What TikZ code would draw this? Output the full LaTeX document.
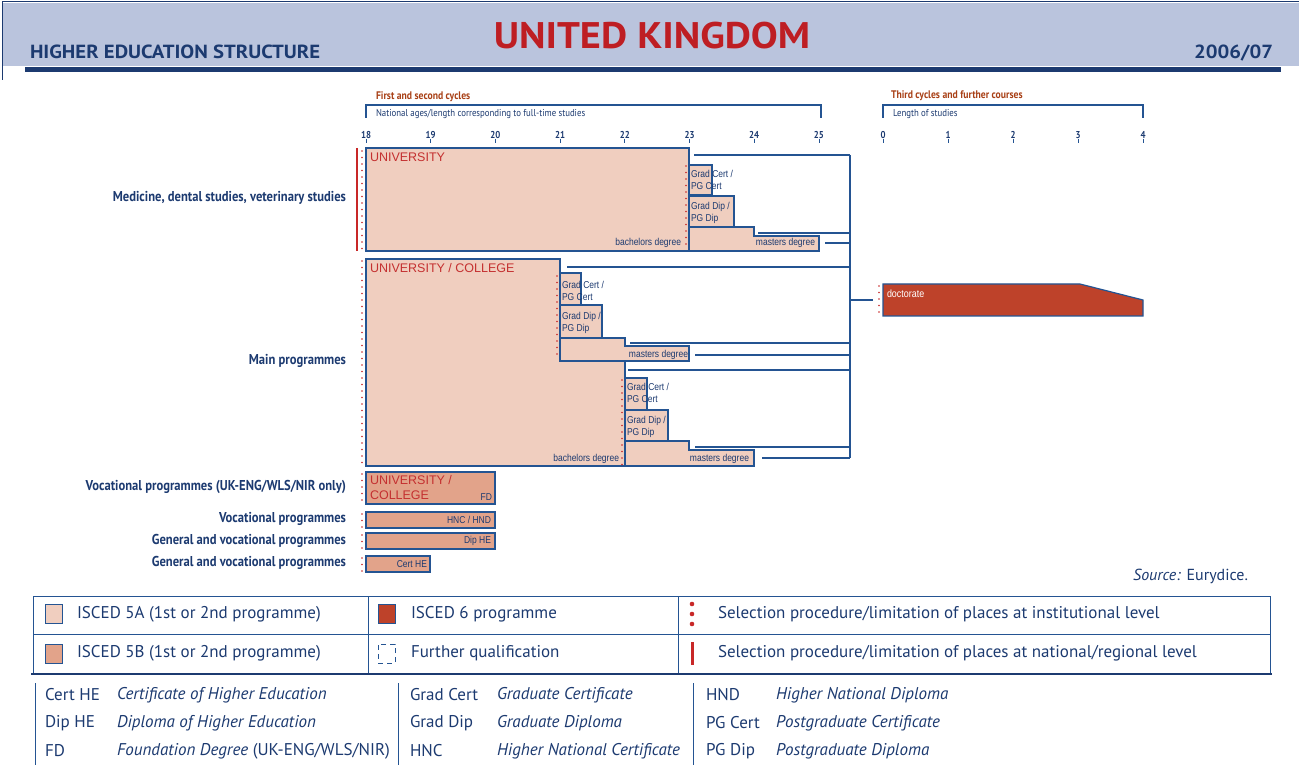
\documentclass[tikz,border=0pt]{standalone}
\usepackage{fontspec}
\setmainfont{PT Sans}
\newfontfamily\condfont[FakeStretch=0.88]{PT Sans}
\newfontfamily\widefont[FakeStretch=1.09]{PT Sans}
\newfontfamily\boxfont[FakeStretch=0.85]{Liberation Sans}
\newfontfamily\unifont{Liberation Sans}
\usetikzlibrary{positioning}

\definecolor{navy}{RGB}{28,58,112}
\definecolor{linenavy}{RGB}{36,84,146}
\definecolor{headband}{RGB}{186,196,221}
\definecolor{isceda}{RGB}{240,206,191}
\definecolor{iscedb}{RGB}{226,163,138}
\definecolor{iscedsix}{RGB}{190,66,42}
\definecolor{selred}{RGB}{200,40,40}
\definecolor{titlered}{RGB}{190,30,35}
\definecolor{unired}{RGB}{196,48,48}
\definecolor{cyclebrown}{RGB}{168,64,22}

\begin{document}
\begin{tikzpicture}[x=1pt,y=-1pt,
  every node/.style={inner sep=0pt,outer sep=0pt},
  fivea/.style={draw=linenavy,fill=isceda,line width=1.2pt},
  fiveb/.style={draw=linenavy,fill=iscedb,line width=1.2pt},
  six/.style={draw=linenavy,fill=iscedsix,line width=1.2pt},
  bus/.style={draw=linenavy,line width=1.2pt},
  instsel/.style={draw=selred,line width=1.6pt,line cap=round,dash pattern=on 0pt off 6.5pt},
  natsel/.style={draw=selred,line width=1.6pt},
  rowlbl/.style={anchor=east,font=\condfont\bfseries\fontsize{14.3}{16}\selectfont,text=navy},
  unilbl/.style={anchor=west,font=\unifont\fontsize{12.5}{15}\selectfont,text=unired},
  qual/.style={font=\boxfont\fontsize{10}{12.5}\selectfont,text=navy},
  axisnum/.style={font=\condfont\bfseries\fontsize{10}{11}\selectfont,text=navy},
  cyclbl/.style={anchor=west,font=\condfont\bfseries\fontsize{11}{12}\selectfont,text=cyclebrown},
  axislbl/.style={anchor=west,font=\condfont\fontsize{10}{11}\selectfont,text=navy},
  legtxt/.style={anchor=west,font=\fontsize{17}{18}\selectfont,text=navy},
  abbr/.style={anchor=west,font=\fontsize{17}{18}\selectfont,text=navy},
  abbrdesc/.style={abbr,font=\itshape\fontsize{17}{18}\selectfont},
  keybox/.style={anchor=north west,minimum width=17pt,minimum height=19pt,line width=1pt}]
\useasboundingbox (0,0) rectangle (1299,767);

% header
\fill[headband] (3,3) rectangle (1299,66);
\draw[navy,line width=1pt] (2,80) -- (2,2) -- (1299,2);
\fill[navy] (25,67) rectangle (1281,72);
\node[font=\widefont\bfseries\fontsize{37}{40}\selectfont,text=titlered] (title) at (652,36) {UNITED KINGDOM};
\node[anchor=base west,font=\widefont\bfseries\fontsize{19}{20}\selectfont,text=navy] (hes) at (30,59) {HIGHER EDUCATION STRUCTURE};
\node[anchor=base east,font=\widefont\bfseries\fontsize{19}{20}\selectfont,text=navy] (year) at (1273,59) {2006/07};

% axes
\node[cyclbl] (cycfirst) at (376,97) {First and second cycles};
\draw[bus] (366,118) -- (366,105) -- (821,105) -- (821,118);
\node[axislbl] (natage) at (376,114) {National ages/length corresponding to full-time studies};
\foreach \a [count=\i from 0] in {18,...,25}
  {\node[axisnum] (age\a) at (366+\i*64.7,135) {\a};
   \draw[linenavy,line width=0.8pt] (age\a.south) -- ++(0,4);}
\node[cyclbl] (cycthird) at (891,96) {Third cycles and further courses};
\draw[bus] (883,118) -- (883,105) -- (1143,105) -- (1143,118);
\node[axislbl] (studlen) at (893,114) {Length of studies};
\foreach \n in {0,...,4}
  {\node[axisnum] (len\n) at (883+\n*65,135) {\n};
   \draw[linenavy,line width=0.8pt] (len\n.south) -- ++(0,4);}

% medicine
\node[fivea,anchor=north west,minimum width=323pt,minimum height=103pt] (medbach) at (366,148) {};
\draw[fivea] (689,227) -- (754,227) -- (754,236) -- (819,236) -- (819,251) -- (689,251) -- cycle;
\node[fivea,anchor=north west,minimum width=23pt,minimum height=30pt] (medgc) at (689,165) {};
\node[fivea,anchor=north west,minimum width=45pt,minimum height=31pt] (medgd) at (689,196) {};
\node[unilbl] (meduni) at (370,157) {UNIVERSITY};
\node[qual,anchor=east] (medba) at (681,243) {bachelors degree};
\node[qual,anchor=west,align=left] (medgctxt) at (691,180) {Grad Cert /\\PG Cert};
\node[qual,anchor=west,align=left] (medgdtxt) at (691,213) {Grad Dip /\\PG Dip};
\node[qual,anchor=east] (medma) at (815,243) {masters degree};
\draw[natsel] (357,148) -- (357,251);
\draw[instsel] (362,151) -- (362,250);
\draw[instsel] (686,166) -- (686,250);

% main programmes
\draw[fivea] (366,259) -- (560,259) -- (560,361) -- (625,361) -- (625,466) -- (366,466) -- cycle;
\draw[fivea] (560,338) -- (625,338) -- (625,346) -- (689,346) -- (689,361) -- (560,361) -- cycle;
\node[fivea,anchor=north west,minimum width=21pt,minimum height=32pt] (maingc) at (560,273) {};
\node[fivea,anchor=north west,minimum width=42pt,minimum height=33pt] (maingd) at (560,305) {};
\draw[fivea] (625,441) -- (689,441) -- (689,450) -- (754,450) -- (754,466) -- (625,466) -- cycle;
\node[fivea,anchor=north west,minimum width=22pt,minimum height=32pt] (longgc) at (625,378) {};
\node[fivea,anchor=north west,minimum width=43pt,minimum height=31pt] (longgd) at (625,410) {};
\node[unilbl] (mainuni) at (370,268) {UNIVERSITY / COLLEGE};
\node[qual,anchor=west,align=left] (maingctxt) at (562,291) {Grad Cert /\\PG Cert};
\node[qual,anchor=west,align=left] (maingdtxt) at (562,323) {Grad Dip /\\PG Dip};
\node[qual,anchor=east] (mainma) at (688,355) {masters degree};
\node[qual,anchor=west,align=left] (longgctxt) at (627,393) {Grad Cert /\\PG Cert};
\node[qual,anchor=west,align=left] (longgdtxt) at (627,427) {Grad Dip /\\PG Dip};
\node[qual,anchor=east] (longba) at (619,459) {bachelors degree};
\node[qual,anchor=east] (longma) at (749,459) {masters degree};
\draw[instsel] (362,261) -- (362,466);
\draw[instsel] (557,276) -- (557,360);
\draw[instsel] (622,380) -- (622,466);

% links to third cycle
\coordinate (bustop) at (850,155);
\coordinate (busbot) at (850,458);
\coordinate (feed1) at (694,155);
\coordinate (feed2) at (758,233);
\coordinate (feed3) at (825,243);
\coordinate (feed4) at (567,267);
\coordinate (feed5) at (630,343);
\coordinate (feed6) at (695,355);
\coordinate (feed7) at (628,370);
\coordinate (feed8) at (695,447);
\coordinate (feed9) at (762,458);
\draw[bus] (bustop) -- (busbot);
\foreach \f in {1,...,9}
  \draw[bus] (feed\f) -- (feed\f -| bustop);

% doctorate
\draw[six] (883,284) -- (1080,284) -- (1143,300) -- (1143,316) -- (883,316) -- cycle;
\node[anchor=west,font=\boxfont\fontsize{10.5}{12}\selectfont,text=white] (doct) at (887,294) {doctorate};
\coordinate (doclink) at (873,300);
\draw[bus] (doclink -| bustop) -- (doclink);
\draw[instsel] (879,286) -- (879,316);

% row labels
\node[rowlbl] (medlbl) at (346,198) {Medicine, dental studies, veterinary studies};
\node[rowlbl] (mainlbl) at (346,361) {Main programmes};
\node[rowlbl] (fdlbl) at (346,487) {Vocational programmes (UK-ENG/WLS/NIR only)};
\node[rowlbl] (hnlbl) at (346,519) {Vocational programmes};
\node[rowlbl] (dhlbl) at (346,541) {General and vocational programmes};
\node[rowlbl] (chlbl) at (346,563) {General and vocational programmes};

% ISCED 5B rows
\node[fiveb,anchor=north west,minimum width=129pt,minimum height=32pt] (fdbox) at (366,472) {};
\node[unilbl,anchor=north west,align=left] (fduni) at (370,475) {UNIVERSITY /\\COLLEGE};
\node[qual,anchor=east] (fdtxt) at (492,497) {FD};
\node[fiveb,anchor=north west,minimum width=129pt,minimum height=16pt] (hnbox) at (366,512) {};
\node[qual,anchor=east] (hntxt) at (491,520) {HNC / HND};
\node[fiveb,anchor=north west,minimum width=129pt,minimum height=16pt] (dhbox) at (366,533) {};
\node[qual,anchor=east] (dhtxt) at (491,541) {Dip HE};
\node[fiveb,anchor=north west,minimum width=64pt,minimum height=16pt] (chbox) at (366,556) {};
\node[qual,anchor=east] (chtxt) at (427,564) {Cert HE};
\draw[instsel] (362,474) -- (362,503);
\draw[instsel] (362,514) -- (362,528);
\draw[instsel] (362,535) -- (362,549);
\draw[instsel] (362,558) -- (362,572);

\node[anchor=east,font=\fontsize{16}{17}\selectfont,text=navy] (src) at (1248,576) {\textit{Source:} Eurydice.};

% key
\draw[linenavy,line width=1pt] (33,673) -- (33,596) -- (1270,596) -- (1270,673);
\draw[linenavy,line width=1pt] (33,634) -- (1270,634);
\draw[linenavy,line width=1pt] (368,596) -- (368,673);
\draw[linenavy,line width=1pt] (678,596) -- (678,673);
\draw[navy,line width=2.5pt] (31,674) -- (1272,674);
\node[keybox,draw=linenavy,fill=isceda] (keya) at (45,604) {};
\node[legtxt] (keyatxt) at (77,614) {ISCED 5A (1st or 2nd programme)};
\node[keybox,draw=linenavy,fill=iscedsix] (keysix) at (378,604) {};
\node[legtxt] (keysixtxt) at (411,614) {ISCED 6 programme};
\foreach \d in {0,1,2}
  \fill[selred] (692,604+\d*10) circle (2.3);
\node[legtxt] (keyinsttxt) at (718,614) {Selection procedure/limitation of places at institutional level};
\node[keybox,draw=linenavy,fill=iscedb] (keyb) at (45,644) {};
\node[legtxt] (keybtxt) at (77,653) {ISCED 5B (1st or 2nd programme)};
\node[keybox,draw=linenavy,dash pattern=on 5pt off 4pt] (keyfq) at (378,644) {};
\node[legtxt] (keyfqtxt) at (411,653) {Further qualification};
\draw[selred,line width=3pt] (692,642) -- (692,665);
\node[legtxt] (keynattxt) at (718,653) {Selection procedure/limitation of places at national/regional level};

% abbreviations
\foreach \c in {35,398,693}
  \draw[linenavy,line width=1pt] (\c,683) -- (\c,765);
\node[abbr] (ab1) at (45,695) {Cert HE};
\node[abbrdesc] (ds1) at (117,695) {Certificate of Higher Education};
\node[abbr] (ab2) at (45,723) {Dip HE};
\node[abbrdesc] (ds2) at (117,723) {Diploma of Higher Education};
\node[abbr] (ab3) at (45,751) {FD};
\node[abbrdesc] (ds3) at (117,751) {Foundation Degree \upshape(UK-ENG/WLS/NIR)};
\node[abbr] (ab4) at (410,695) {Grad Cert};
\node[abbrdesc] (ds4) at (497,695) {Graduate Certificate};
\node[abbr] (ab5) at (410,723) {Grad Dip};
\node[abbrdesc] (ds5) at (497,723) {Graduate Diploma};
\node[abbr] (ab6) at (410,751) {HNC};
\node[abbrdesc] (ds6) at (497,751) {Higher National Certificate};
\node[abbr] (ab7) at (706,695) {HND};
\node[abbrdesc] (ds7) at (776,695) {Higher National Diploma};
\node[abbr] (ab8) at (706,723) {PG Cert};
\node[abbrdesc] (ds8) at (776,723) {Postgraduate Certificate};
\node[abbr] (ab9) at (706,751) {PG Dip};
\node[abbrdesc] (ds9) at (776,751) {Postgraduate Diploma};
\end{tikzpicture}
\end{document}
